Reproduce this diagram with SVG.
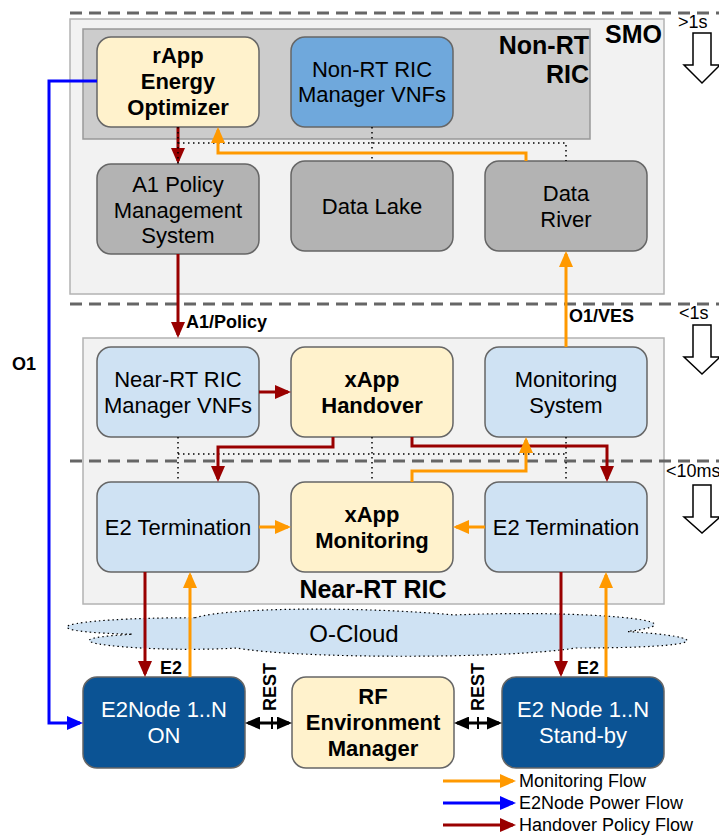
<svg xmlns="http://www.w3.org/2000/svg" width="719" height="837" viewBox="0 0 719 837">
<style>
text{font-family:"Liberation Sans",Arial,sans-serif;fill:#000}
.n{font-size:22px;text-anchor:middle}
.b{font-weight:bold}
.g{font-size:25px;font-weight:bold}
.lbl{font-size:18px;font-weight:bold}
.t{font-size:18px}
.box{stroke:#666;stroke-width:1.5}
.yel{fill:#fff2cc}.lb{fill:#cfe2f3}.gr{fill:#b3b3b3}.mb{fill:#6fa8dc}.db{fill:#0b5394}
.red{fill:none;stroke:#990000;stroke-width:3}
.org{fill:none;stroke:#ff9900;stroke-width:3}
.blu{fill:none;stroke:#0000ff;stroke-width:3}
.blk{fill:none;stroke:#000;stroke-width:3}
.dot{fill:none;stroke:#000;stroke-width:1.5;stroke-dasharray:1.5 3.5}
.dash{fill:none;stroke:#666;stroke-width:3;stroke-dasharray:12 7}
.hollow{fill:#fff;stroke:#000;stroke-width:1.5}
</style>
<defs>
<marker id="aR" markerUnits="userSpaceOnUse" markerWidth="16" markerHeight="14" refX="13" refY="7" orient="auto"><path d="M0,0 L16,7 L0,14 z" fill="#990000"/></marker>
<marker id="aO" markerUnits="userSpaceOnUse" markerWidth="16" markerHeight="14" refX="13" refY="7" orient="auto"><path d="M0,0 L16,7 L0,14 z" fill="#ff9900"/></marker>
<marker id="aB" markerUnits="userSpaceOnUse" markerWidth="16" markerHeight="14" refX="13" refY="7" orient="auto"><path d="M0,0 L16,7 L0,14 z" fill="#0000ff"/></marker>
<marker id="aK" markerUnits="userSpaceOnUse" markerWidth="15" markerHeight="13" refX="12" refY="6.5" orient="auto-start-reverse"><path d="M0,0 L15,6.5 L0,13 z" fill="#000"/></marker>
</defs>

<!-- containers -->
<g id="smo">
<rect x="70" y="19" width="594" height="275" fill="#f2f2f2" stroke="#b3b3b3" stroke-width="1.5"/>
<text class="g" x="662" y="43" text-anchor="end">SMO</text>
</g>
<g id="nonrt-ric">
<rect x="83" y="29" width="507" height="110" fill="#cccccc" stroke="#999" stroke-width="1.5"/>
<text class="g" x="589" y="54" text-anchor="end">Non-RT</text>
<text class="g" x="589" y="83" text-anchor="end">RIC</text>
</g>
<g id="nearrt-ric">
<rect x="83" y="338" width="581" height="266" fill="#f2f2f2" stroke="#b3b3b3" stroke-width="1.5"/>
<text class="g" x="373" y="598" text-anchor="middle">Near-RT RIC</text>
</g>

<!-- timing separators -->
<g id="timing">
<path class="dash" d="M70,13 H719 M70,304 H719 M70,461 H719"/>
<text class="t" x="678" y="28">&gt;1s</text>
<polygon class="hollow" points="693,33 711,33 711,65 720,65 702,83 684,65 693,65"/>
<text class="t" x="679" y="319">&lt;1s</text>
<polygon class="hollow" points="693,325 711,325 711,357 720,357 702,374 684,357 693,357"/>
<text class="t" x="666" y="477">&lt;10ms</text>
<polygon class="hollow" points="693,485 711,485 711,517 720,517 702,533 684,517 693,517"/>
</g>

<g id="o-cloud">
<path d="M195,617.75 C56.6,617.75 22,631.5 132.7,634.25 C22,640.3 146.6,653.5 236.5,648 C298.8,659 506.4,659 575.6,648 C714,648 714,637 627.5,631.5 C714,620.5 575.6,609.5 454.5,615 C368,606.75 229.6,606.75 195,617.75 Z" fill="#cfe2f3" stroke="#000" stroke-width="1.2" stroke-dasharray="1.5 3"/>
<text x="354" y="642" font-size="24" text-anchor="middle">O-Cloud</text>
</g>

<!-- nodes -->
<g id="rapp">
<rect class="box yel" x="97" y="37" width="162" height="90" rx="14"/>
<text class="n b" x="178" y="63">rApp</text>
<text class="n b" x="178" y="89">Energy</text>
<text class="n b" x="178" y="115">Optimizer</text>
</g>
<g id="nonrt-vnfs">
<rect class="box mb" x="291" y="37" width="162" height="90" rx="14"/>
<text class="n" x="372" y="77">Non-RT RIC</text>
<text class="n" x="372" y="102">Manager VNFs</text>
</g>
<g id="a1-policy">
<rect class="box gr" x="97" y="164" width="162" height="90" rx="14"/>
<text class="n" x="178" y="192">A1 Policy</text>
<text class="n" x="178" y="218">Management</text>
<text class="n" x="178" y="243">System</text>
</g>
<g id="data-lake">
<rect class="box gr" x="291" y="161" width="162" height="90" rx="14"/>
<text class="n" x="372" y="214">Data Lake</text>
</g>
<g id="data-river">
<rect class="box gr" x="485" y="161" width="162" height="90" rx="14"/>
<text class="n" x="566" y="201">Data</text>
<text class="n" x="566" y="227">River</text>
</g>
<g id="nearrt-vnfs">
<rect class="box lb" x="97" y="347" width="162" height="90" rx="14"/>
<text class="n" x="178" y="387">Near-RT RIC</text>
<text class="n" x="178" y="413">Manager VNFs</text>
</g>
<g id="xapp-handover">
<rect class="box yel" x="291" y="347" width="162" height="90" rx="14"/>
<text class="n b" x="372" y="387">xApp</text>
<text class="n b" x="372" y="413">Handover</text>
</g>
<g id="monitoring-system">
<rect class="box lb" x="485" y="347" width="162" height="90" rx="14"/>
<text class="n" x="566" y="387">Monitoring</text>
<text class="n" x="566" y="413">System</text>
</g>
<g id="e2t-left">
<rect class="box lb" x="97" y="482" width="162" height="90" rx="14"/>
<text class="n" x="178" y="535">E2 Termination</text>
</g>
<g id="xapp-monitoring">
<rect class="box yel" x="291" y="482" width="162" height="90" rx="14"/>
<text class="n b" x="372" y="522">xApp</text>
<text class="n b" x="372" y="548">Monitoring</text>
</g>
<g id="e2t-right">
<rect class="box lb" x="485" y="482" width="162" height="90" rx="14"/>
<text class="n" x="566" y="535">E2 Termination</text>
</g>
<g id="e2node-on">
<rect class="box db" x="83" y="677" width="162" height="91" rx="14"/>
<text class="n" x="164" y="717" style="fill:#fff">E2Node 1..N</text>
<text class="n" x="164" y="743" style="fill:#fff">ON</text>
</g>
<g id="rf-env">
<rect class="box yel" x="292" y="677" width="162" height="91" rx="14"/>
<text class="n b" x="373" y="704">RF</text>
<text class="n b" x="373" y="730">Environment</text>
<text class="n b" x="373" y="756">Manager</text>
</g>
<g id="e2node-standby">
<rect class="box db" x="502" y="677" width="162" height="91" rx="14"/>
<text class="n" x="583" y="717" style="fill:#fff">E2 Node 1..N</text>
<text class="n" x="583" y="743" style="fill:#fff">Stand-by</text>
</g>

<!-- connectors -->
<g id="connectors">
<path class="red" d="M178,127 V161" marker-end="url(#aR)"/>
<path class="dot" d="M178,127 V164 M372,127 V161 M178,143 H566 V161"/>
<path class="org" d="M526,161 V153 H218 V130" marker-end="url(#aO)"/>
<path class="red" d="M178,254 V335" marker-end="url(#aR)"/>
<path class="org" d="M566,347 V254" marker-end="url(#aO)"/>
<path class="red" d="M259,392 H288" marker-end="url(#aR)"/>
<path class="dot" d="M178,437 V482 M372,437 V482 M566,437 V482 M178,454 H566"/>
<path class="red" d="M333,437 V447 H218 V479" marker-end="url(#aR)"/>
<path class="red" d="M412,437 V446 H607 V479" marker-end="url(#aR)"/>
<path class="org" d="M412,482 V471 H526 V440" marker-end="url(#aO)"/>
<path class="org" d="M259,527 H288" marker-end="url(#aO)"/>
<path class="org" d="M485,527 H456" marker-end="url(#aO)"/>
<path class="red" d="M145,572 V674" marker-end="url(#aR)"/>
<path class="org" d="M190,677 V575" marker-end="url(#aO)"/>
<path class="red" d="M561,572 V674" marker-end="url(#aR)"/>
<path class="org" d="M606,677 V575" marker-end="url(#aO)"/>
<path class="blu" d="M97,81 H49 V723 H80" marker-end="url(#aB)"/>
<path class="blk" d="M248,723 H289" marker-start="url(#aK)" marker-end="url(#aK)"/>
<path d="M272,717 V729" stroke="#000" stroke-width="2"/>
<path class="blk" d="M457,723 H499" marker-start="url(#aK)" marker-end="url(#aK)"/>
<path d="M478,717 V729" stroke="#000" stroke-width="2"/>
<text class="lbl" x="186" y="328">A1/Policy</text>
<text class="lbl" x="569" y="322">O1/VES</text>
<text class="lbl" x="12" y="370">O1</text>
<text class="lbl" x="160" y="674">E2</text>
<text class="lbl" x="577" y="674">E2</text>
<text class="lbl" font-size="17" transform="translate(276,687) rotate(-90)" text-anchor="middle">REST</text>
<text class="lbl" font-size="17" transform="translate(484,687) rotate(-90)" text-anchor="middle">REST</text>
</g>

<g id="legend">
<path class="org" d="M443,781 H513" marker-end="url(#aO)"/>
<text class="t" x="519" y="787">Monitoring Flow</text>
<path class="blu" d="M443,803 H513" marker-end="url(#aB)"/>
<text class="t" x="519" y="809">E2Node Power Flow</text>
<path class="red" d="M443,825 H513" marker-end="url(#aR)"/>
<text class="t" x="519" y="831">Handover Policy Flow</text>
</g>
</svg>
